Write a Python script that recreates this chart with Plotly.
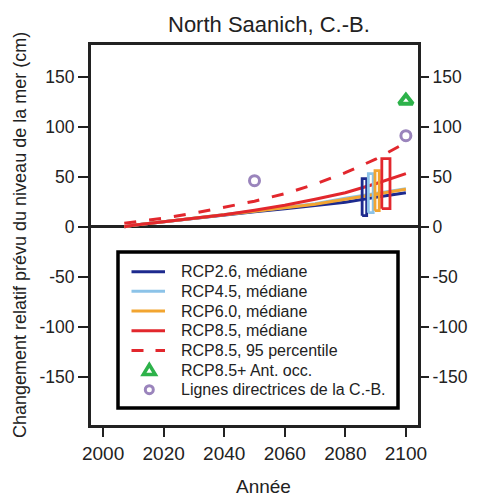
import plotly.graph_objects as go

# Projected relative sea-level change, North Saanich (cm)
years = [2007, 2010, 2020, 2030, 2040, 2050, 2060, 2070, 2080, 2090, 2100]
rcp26_median = [0, 1.5, 5, 8.5, 12, 15, 18, 21, 24.5, 29.5, 34]
rcp45_median = [0, 1.5, 5, 8.5, 12, 15.5, 19, 23, 28.5, 33, 38]
rcp60_median = [0, 1.5, 5, 8.5, 12, 15, 18.5, 22.5, 27.5, 32.5, 37.5]
rcp85_median = [0, 1.5, 5, 8.5, 12, 16.5, 21.5, 27.5, 34, 43, 53]
rcp85_p95 = [3.5, 4.5, 8.5, 13.5, 19.5, 25.5, 33, 42.5, 54, 67.5, 84]

# 2100 likely ranges per scenario (low, high)
scenarios = ["RCP2.6", "RCP4.5", "RCP6.0", "RCP8.5"]
range_low = [11, 14, 16, 18]
range_high = [48, 53, 56, 68]

# Additional scenarios
ant_year = [2100]
ant_value = [126]
bc_years = [2050, 2100]
bc_values = [46, 91]

# Tick labels
x_ticks = [2000, 2020, 2040, 2060, 2080, 2100]
y_ticks = [-150, -100, -50, 0, 50, 100, 150]

# Legend labels
legend_labels = [
    "RCP2.6, médiane",
    "RCP4.5, médiane",
    "RCP6.0, médiane",
    "RCP8.5, médiane",
    "RCP8.5, 95 percentile",
    "RCP8.5+ Ant. occ.",
    "Lignes directrices de la C.-B.",
]

colors = {
    "RCP2.6": "#1d2a8e",
    "RCP4.5": "#8cc3e8",
    "RCP6.0": "#f2a531",
    "RCP8.5": "#e2272d",
}
green = "#2db24a"
purple = "#9a84bc"
font_family = "Liberation Sans, Arial, sans-serif"
ink = "#222222"

# Horizontal placement and width (years) of each range box
box_center = [2086.3, 2088.4, 2090.5, 2093.4]
box_width = [1.5, 1.6, 1.4, 2.7]

# Plot-area geometry in pixels (used for the in-plot legend panel)
W, H = 480, 499
L, R, T, B = 91, 62, 45, 74
PW, PH = W - L - R, H - T - B


def px_x(px):
    return (px - L) / PW


def px_y(py):
    return (H - B - py) / PH


fig = go.Figure()

medians = [rcp26_median, rcp45_median, rcp60_median, rcp85_median]
for name, vals in zip(scenarios, medians):
    fig.add_trace(go.Scatter(
        x=years, y=vals, mode="lines", name=f"{name}, médiane",
        line=dict(color=colors[name], width=3), showlegend=False,
    ))

fig.add_trace(go.Scatter(
    x=years, y=rcp85_p95, mode="lines", name="RCP8.5, 95 percentile",
    line=dict(color=colors["RCP8.5"], width=3, dash="12px,13px"),
    showlegend=False,
))

# Range boxes drawn as closed outlines
for name, lo, hi, xc, w in zip(scenarios, range_low, range_high, box_center, box_width):
    x0, x1 = xc - w / 2, xc + w / 2
    fig.add_trace(go.Scatter(
        x=[x0, x1, x1, x0, x0], y=[lo, lo, hi, hi, lo], mode="lines",
        line=dict(color=colors[name], width=2.8), showlegend=False,
        hoverinfo="skip",
    ))

fig.add_trace(go.Scatter(
    x=ant_year, y=ant_value, mode="markers", name="RCP8.5+ Ant. occ.",
    marker=dict(symbol="triangle-up-open", size=12, color=green,
                line=dict(color=green, width=4)),
    showlegend=False,
))
fig.add_trace(go.Scatter(
    x=bc_years, y=bc_values, mode="markers", name="Lignes directrices de la C.-B.",
    marker=dict(symbol="circle-open", size=10, color=purple,
                line=dict(color=purple, width=3)),
    showlegend=False,
))

# Empty trace to anchor the right-hand axis
fig.add_trace(go.Scatter(x=[], y=[], yaxis="y2", showlegend=False, hoverinfo="skip"))

# Legend panel: frame, symbols and labels
shapes = [dict(
    type="rect", xref="paper", yref="paper",
    x0=px_x(118), x1=px_x(398), y0=px_y(408), y1=px_y(252),
    line=dict(color="black", width=3.5), fillcolor="rgba(0,0,0,0)",
)]
annotations = []
row0, row_step = 271.7, 19.67
sym_x0, sym_x1, sym_xc = 131.5, 165, 149.3
line_styles = [
    dict(color=colors["RCP2.6"], width=3),
    dict(color=colors["RCP4.5"], width=3),
    dict(color=colors["RCP6.0"], width=3),
    dict(color=colors["RCP8.5"], width=3),
    dict(color=colors["RCP8.5"], width=3, dash="12px,12px"),
]
for i, label in enumerate(legend_labels):
    ry = row0 + i * row_step
    if i < len(line_styles):
        shapes.append(dict(
            type="line", xref="paper", yref="paper",
            x0=px_x(sym_x0), x1=px_x(sym_x1), y0=px_y(ry), y1=px_y(ry),
            line=line_styles[i],
        ))
    elif i == 5:
        tri = "M {:.5f},{:.5f} L {:.5f},{:.5f} L {:.5f},{:.5f} Z".format(
            px_x(sym_xc - 6), px_y(ry + 4.5),
            px_x(sym_xc + 6), px_y(ry + 4.5),
            px_x(sym_xc), px_y(ry - 5.5),
        )
        shapes.append(dict(
            type="path", xref="paper", yref="paper", path=tri,
            line=dict(color=green, width=3.5), fillcolor="rgba(0,0,0,0)",
        ))
    else:
        shapes.append(dict(
            type="circle", xref="paper", yref="paper",
            x0=px_x(sym_xc - 4), x1=px_x(sym_xc + 4),
            y0=px_y(ry + 4), y1=px_y(ry - 4),
            line=dict(color=purple, width=3), fillcolor="rgba(0,0,0,0)",
        ))
    annotations.append(dict(
        text=label, xref="paper", yref="paper", x=px_x(179), y=px_y(ry),
        xanchor="left", yanchor="middle", showarrow=False,
        font=dict(family=font_family, size=16, color=ink),
    ))

annotations += [
    dict(text="North Saanich, C.-B.", xref="paper", yref="paper",
         x=0.545, y=1.055, xanchor="center", yanchor="middle",
         showarrow=False, font=dict(family=font_family, size=22, color=ink)),
    dict(text="Changement relatif prévu du niveau de la mer (cm)",
         xref="paper", yref="paper", x=-0.217, y=0.5, textangle=-90,
         xanchor="center", yanchor="middle", showarrow=False,
         font=dict(family=font_family, size=18, color=ink)),
    dict(text="Année", xref="paper", yref="paper", x=0.5275, y=-0.163,
         xanchor="center", yanchor="middle", showarrow=False,
         font=dict(family=font_family, size=19, color=ink)),
]

y_range = [-198.3, 181.7]
axis_font = dict(family=font_family, size=17.5, color=ink)

fig.update_layout(
    width=W, height=H,
    margin=dict(l=L, r=R, t=T, b=B),
    paper_bgcolor="white", plot_bgcolor="white",
    font=dict(family=font_family, color=ink),
    showlegend=False,
    xaxis=dict(
        range=[1996, 2104], tickvals=x_ticks, ticktext=[str(v) for v in x_ticks],
        ticks="outside", ticklen=9, tickwidth=2, tickcolor=ink,
        showline=True, mirror=True, linewidth=3, linecolor=ink,
        showgrid=False, zeroline=False,
        tickfont=dict(family=font_family, size=19, color=ink),
    ),
    yaxis=dict(
        range=y_range, tickvals=y_ticks, ticktext=[str(v) for v in y_ticks],
        ticks="outside", ticklen=10, tickwidth=2, tickcolor=ink,
        showline=True, mirror=True, linewidth=3, linecolor=ink,
        showgrid=False, zeroline=True, zerolinecolor=ink, zerolinewidth=2.5,
        tickfont=axis_font,
    ),
    yaxis2=dict(
        range=y_range, tickvals=y_ticks, ticktext=[str(v) for v in y_ticks],
        overlaying="y", side="right",
        ticks="outside", ticklen=10, tickwidth=2, tickcolor=ink,
        showline=False, showgrid=False, zeroline=False,
        tickfont=axis_font,
    ),
    shapes=shapes,
    annotations=annotations,
)

fig.write_html("out.html")
